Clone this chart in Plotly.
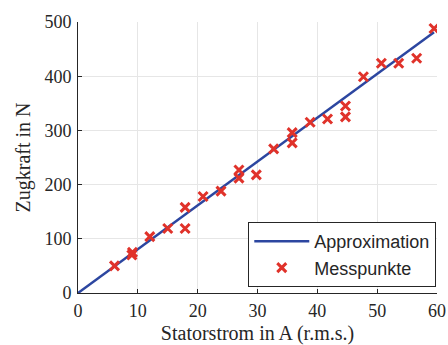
import plotly.graph_objects as go

# Data
approx_x = [0, 59.5]
approx_y = [0, 481]

mess_x = [6.1, 9.0, 9.1, 12.0, 15.0, 17.9, 17.9, 20.9, 23.9, 26.9, 26.9, 29.8,
          32.7, 35.8, 35.8, 38.8, 41.7, 44.7, 44.7, 47.7, 50.7, 53.6, 56.6, 59.5]
mess_y = [50, 70, 75, 104, 119, 158, 119, 178, 188, 227, 212, 218,
          266, 296, 277, 315, 321, 345, 325, 399, 424, 424, 433, 488]

x_ticks = [0, 10, 20, 30, 40, 50, 60]
y_ticks = [0, 100, 200, 300, 400, 500]

serif = "Liberation Serif"

fig = go.Figure()
fig.add_trace(go.Scatter(x=approx_x, y=approx_y, mode="lines", name="Approximation",
                         line=dict(color="#2c46a0", width=2.5)))
fig.add_trace(go.Scatter(x=mess_x, y=mess_y, mode="markers", name="Messpunkte",
                         marker=dict(symbol="x-thin", size=9, color="#e0322a",
                                     line=dict(color="#e0322a", width=3))))

axis_common = dict(
    showgrid=True, gridcolor="#e6e6e6", gridwidth=1,
    showline=True, linecolor="#262626", linewidth=1,
    ticks="inside", ticklen=4, tickcolor="#262626",
    zeroline=False, mirror=False, automargin=False,
    tickfont=dict(family=serif, size=18, color="#262626"),
)

fig.update_xaxes(range=[0, 60], tickvals=x_ticks, ticklabelstandoff=1,
                 title=dict(text="Statorstrom in A (r.m.s.)",
                            font=dict(family=serif, size=20, color="#262626"),
                            standoff=8),
                 **axis_common)
fig.update_yaxes(range=[0, 500], tickvals=y_ticks, ticklabelstandoff=2,
                 title=dict(text="Zugkraft in N",
                            font=dict(family=serif, size=20, color="#262626"),
                            standoff=8),
                 **axis_common)

fig.update_layout(
    width=448, height=345,
    margin=dict(l=78, r=11, t=22, b=52),
    plot_bgcolor="white", paper_bgcolor="white",
    showlegend=True,
    legend=dict(x=0.998, y=0.022, xanchor="right", yanchor="bottom",
                bgcolor="white", bordercolor="#262626", borderwidth=1,
                font=dict(family="Liberation Sans", size=18, color="#262626"),
                tracegroupgap=0, itemwidth=55),
)

fig.write_html("out.html")
